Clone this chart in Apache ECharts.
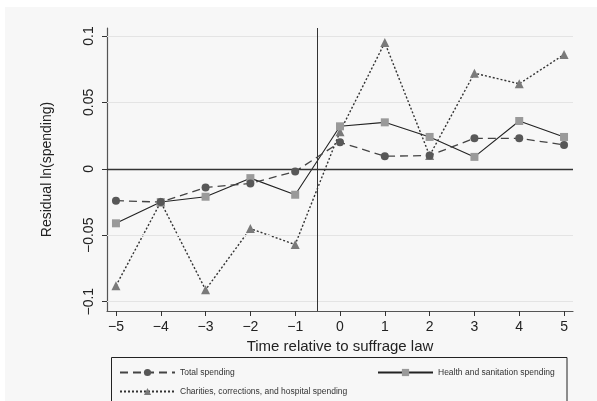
<!DOCTYPE html>
<html>
<head>
<meta charset="utf-8">
<script src="https://cdn.jsdelivr.net/npm/echarts@6/dist/echarts.min.js"></script>
<style>
  html, body { margin: 0; padding: 0; background: #ffffff; }
  #panel { position: absolute; left: 5px; top: 7px; width: 592px; height: 394px; background: #f7f7f7; }
  #chart { position: absolute; left: 0; top: 0; width: 597px; height: 401px; }
</style>
</head>
<body>
<div id="panel"></div>
<div id="chart"></div>
<script>
// Event time relative to the suffrage law
const years = [-5, -4, -3, -2, -1, 0, 1, 2, 3, 4, 5];
const totalSpending = [-0.024, -0.025, -0.014, -0.011, -0.002, 0.020, 0.0095, 0.010, 0.023, 0.023, 0.018];
const healthSpending = [-0.041, -0.025, -0.021, -0.007, -0.0195, 0.032, 0.035, 0.024, 0.009, 0.036, 0.024];
const charitiesSpending = [-0.088, -0.025, -0.091, -0.045, -0.057, 0.028, 0.095, 0.010, 0.072, 0.064, 0.086];
const yTicks = [-0.1, -0.05, 0, 0.05, 0.1];
const gridValues = [-0.1, -0.05, 0.05, 0.1];
const lawLine = -0.5;

const pairs = arr => years.map((x, i) => [x, arr[i]]);
const minus = v => String(v).replace('-', '\u2212');
const font = 'Liberation Sans, Arial, sans-serif';

const chart = echarts.init(document.getElementById('chart'), null, { renderer: 'canvas' });

const legendBase = {
  itemWidth: 55, itemHeight: 9, itemGap: 10,
  textStyle: { fontSize: 8.5, color: '#333', fontFamily: font },
  selectedMode: false
};

chart.setOption({
  animation: false,
  grid: { left: 107, top: 28, right: 24, bottom: 90 },
  xAxis: {
    type: 'value', min: -5.2, max: 5.2,
    name: 'Time relative to suffrage law', nameLocation: 'middle', nameGap: 26,
    nameTextStyle: { fontSize: 15, color: '#222', fontFamily: font },
    axisLine: { onZero: false, lineStyle: { color: '#555', width: 1.2 } },
    axisTick: { show: true, length: 5, customValues: years, lineStyle: { color: '#333' } },
    axisLabel: { customValues: years, formatter: minus, fontSize: 14, color: '#222', margin: 9, fontFamily: font },
    splitLine: { show: false }
  },
  yAxis: {
    type: 'value', min: -0.107, max: 0.106,
    name: 'Residual ln(spending)', nameLocation: 'middle', nameGap: 53,
    nameTextStyle: { fontSize: 14, color: '#222', fontFamily: font },
    axisLine: { show: true, onZero: false, lineStyle: { color: '#555', width: 1.2 } },
    axisTick: { show: true, length: 5, customValues: yTicks, lineStyle: { color: '#333' } },
    axisLabel: { customValues: yTicks, formatter: minus, rotate: 90, fontSize: 14, color: '#222', margin: 11, fontFamily: font },
    splitLine: { show: false }
  },
  legend: [
    Object.assign({ data: ['Total spending'], left: 114, top: 363 }, legendBase),
    Object.assign({ data: ['Health and sanitation spending'], left: 372, top: 363 }, legendBase),
    Object.assign({ data: ['Charities, corrections, and hospital spending'], left: 114, top: 382 }, legendBase)
  ],
  graphic: [{
    type: 'rect', silent: true,
    shape: { x: 111.5, y: 357.5, width: 455.5, height: 60 },
    style: { fill: 'none', stroke: '#222', lineWidth: 1 }
  }],
  series: [
    {
      name: 'Total spending', type: 'line', data: pairs(totalSpending),
      symbol: 'circle', symbolSize: 8,
      itemStyle: { color: '#585858' },
      lineStyle: { color: '#444', width: 1.3, type: [8, 5] },
      z: 5,
      markLine: {
        silent: true, symbol: 'none', label: { show: false }, animation: false,
        data: [
          ...gridValues.map(v => ({ yAxis: v, lineStyle: { color: '#e4e4e4', width: 1, type: 'solid' } })),
          { yAxis: 0, lineStyle: { color: '#333', width: 1.3, type: 'solid' } },
          { xAxis: lawLine, lineStyle: { color: '#333', width: 1, type: 'solid' } }
        ]
      }
    },
    {
      name: 'Health and sanitation spending', type: 'line', data: pairs(healthSpending),
      symbol: 'rect', symbolSize: 8,
      itemStyle: { color: '#9a9a9a' },
      lineStyle: { color: '#222', width: 1.1, type: 'solid' },
      z: 4
    },
    {
      name: 'Charities, corrections, and hospital spending', type: 'line', data: pairs(charitiesSpending),
      symbol: 'triangle', symbolSize: 9,
      itemStyle: { color: '#7a7a7a' },
      lineStyle: { color: '#333', width: 1.4, type: [2, 2] },
      z: 3
    }
  ]
});
</script>
</body>
</html>
